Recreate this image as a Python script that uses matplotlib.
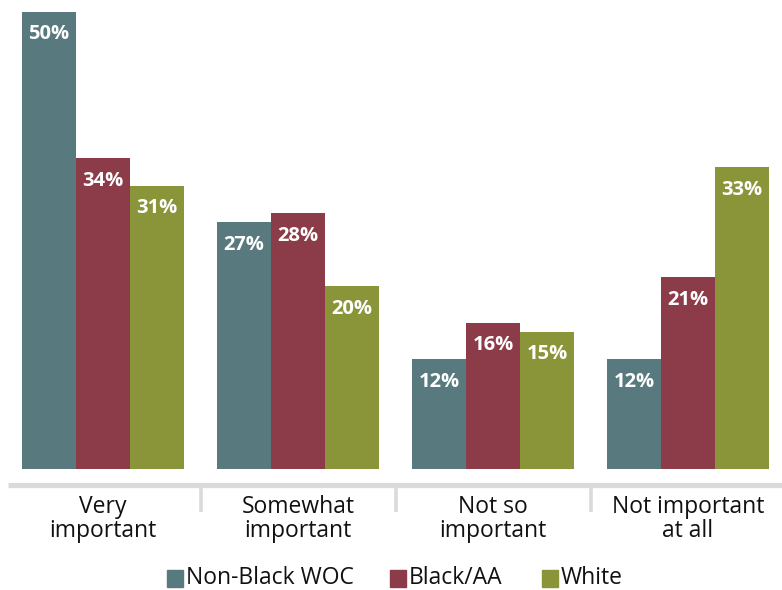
import matplotlib
matplotlib.use("Agg")
import matplotlib.pyplot as plt
from matplotlib.patches import Rectangle

categories = ["Very\nimportant", "Somewhat\nimportant", "Not so\nimportant", "Not important\nat all"]
series_names = ["Non-Black WOC", "Black/AA", "White"]
non_black_woc = [50, 27, 12, 12]
black_aa = [34, 28, 16, 21]
white = [31, 20, 15, 33]
colors = ["#587a7e", "#8c3c48", "#8a953a"]

W, H = 782, 590
fig = plt.figure(figsize=(W / 100, H / 100), dpi=100)
plt.rcParams["font.family"] = ["Open Sans", "DejaVu Sans"]

# axes: bar baseline at pixel row 469, 9.14 px per percentage point
base_px = 469
px_per_unit = 9.14
ax = fig.add_axes([0, (H - base_px) / H, 1, base_px / H])
ax.set_ylim(0, base_px / px_per_unit)
group_step = 195.0
first_center = 103.0
ax.set_xlim(-first_center / group_step, (W - first_center) / group_step)
ax.axis("off")

bar_w = 54 / group_step
series = [non_black_woc, black_aa, white]
for s, (vals, col) in enumerate(zip(series, colors)):
    xs = [i + (s - 1) * bar_w for i in range(len(categories))]
    ax.bar(xs, vals, width=bar_w, color=col, edgecolor="none")
    for x, v in zip(xs, vals):
        ax.annotate(f"{v}%", (x, v), xytext=(0, -9), textcoords="offset points",
                    ha="center", va="top", color="white", fontsize=14.5,
                    fontweight="bold")

# baseline rule and group separators below the bars
axis_y = -15.5 / px_per_unit
sep_bottom = -43 / px_per_unit
rule_color = "#d9dbd9"
ax.plot([-95 / group_step, (W - first_center) / group_step], [axis_y, axis_y],
        color=rule_color, lw=3.8, clip_on=False, solid_capstyle="butt")
for xs in [0.5, 1.5, 2.5]:
    ax.plot([xs, xs], [axis_y, sep_bottom], color=rule_color, lw=2.6,
            clip_on=False, solid_capstyle="butt")

for i, cat in enumerate(categories):
    ax.text(i, -26 / px_per_unit, cat, ha="center", va="top", fontsize=16.5,
            color="#111111", linespacing=1.0)

# legend row
leg_y = 570
for (x0, tx), name, col in zip([(167, 186), (390, 409), (542, 561)], series_names, colors):
    fig.patches.append(Rectangle((x0 / W, 1 - (leg_y + 17) / H), 16 / W, 17 / H,
                                 transform=fig.transFigure, color=col))
    fig.text(tx / W, 1 - (leg_y + 8) / H, name, ha="left", va="center",
             fontsize=16.5, color="#111111")

fig.savefig("out.png", dpi=100)
